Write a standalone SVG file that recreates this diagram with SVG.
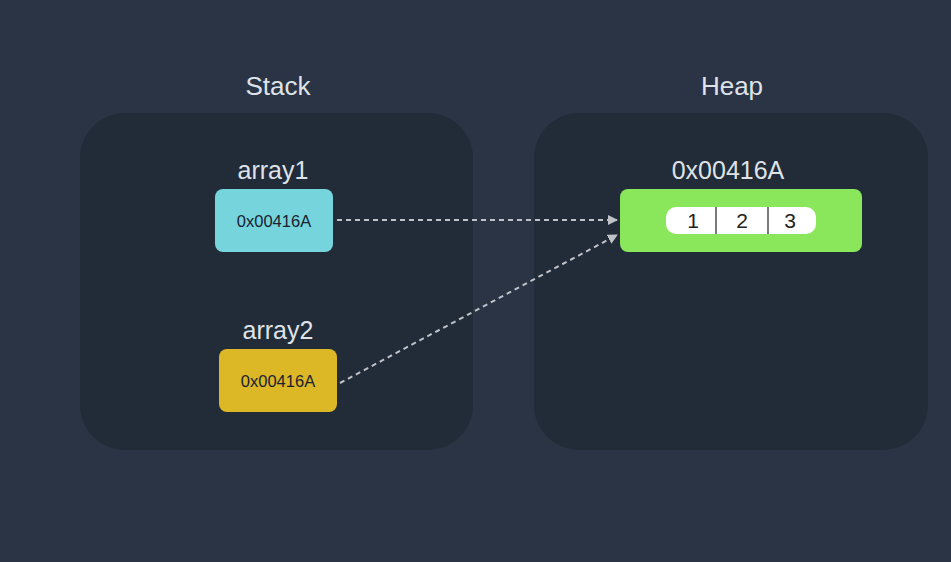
<svg xmlns="http://www.w3.org/2000/svg" width="951" height="562" viewBox="0 0 951 562">
<style>
.title{font-family:"Liberation Sans",Arial,sans-serif;font-size:26px;fill:#dfe3e8;text-anchor:middle}
.label{font-family:"Liberation Sans",Arial,sans-serif;font-size:25px;fill:#dfe3e8;text-anchor:middle}
.addr{font-family:"Liberation Sans",Arial,sans-serif;font-size:16.5px;fill:#1a2230;text-anchor:middle}
.num{font-family:"Liberation Sans",Arial,sans-serif;font-size:21px;fill:#222;text-anchor:middle}
.panel{fill:#222b38}
.conn{stroke:#bfc3c8;stroke-width:2;stroke-dasharray:5 4;fill:none}
</style>
<defs>
<marker id="arr" viewBox="0 0 10 10" refX="9" refY="5" markerWidth="5" markerHeight="5" orient="auto" markerUnits="strokeWidth">
<path d="M0,0 L10,5 L0,10 z" fill="#bfc3c8"/>
</marker>
</defs>
<rect width="951" height="562" fill="#2a3445"/>
<g id="stack">
<rect class="panel" x="80" y="113" width="393" height="337" rx="45"/>
<text class="title" x="278" y="95">Stack</text>
</g>
<g id="heap">
<rect class="panel" x="534" y="113" width="394" height="337" rx="45"/>
<text class="title" x="732" y="95">Heap</text>
</g>
<g id="array1">
<text class="label" x="273" y="179">array1</text>
<rect x="215" y="189" width="118" height="63" rx="8" fill="#76d5dc"/>
<text class="addr" x="274" y="227">0x00416A</text>
</g>
<g id="array2">
<text class="label" x="278" y="339">array2</text>
<rect x="219" y="349" width="118" height="63" rx="8" fill="#dcb826"/>
<text class="addr" x="278" y="387">0x00416A</text>
</g>
<g id="heapobj">
<text class="label" x="728" y="179">0x00416A</text>
<rect x="620" y="189" width="242" height="63" rx="8" fill="#8ae65a"/>
<rect x="666" y="207" width="150" height="27" rx="10" fill="#ffffff"/>
<line x1="716" y1="207" x2="716" y2="234" stroke="#222" stroke-width="1.2"/>
<line x1="768" y1="207" x2="768" y2="234" stroke="#222" stroke-width="1.2"/>
<text class="num" x="693" y="228">1</text>
<text class="num" x="742" y="228">2</text>
<text class="num" x="790" y="228">3</text>
</g>
<g id="connectors">
<line class="conn" x1="337" y1="220" x2="617" y2="220" marker-end="url(#arr)"/>
<line class="conn" x1="340" y1="383" x2="617" y2="235" marker-end="url(#arr)"/>
</g>
</svg>
